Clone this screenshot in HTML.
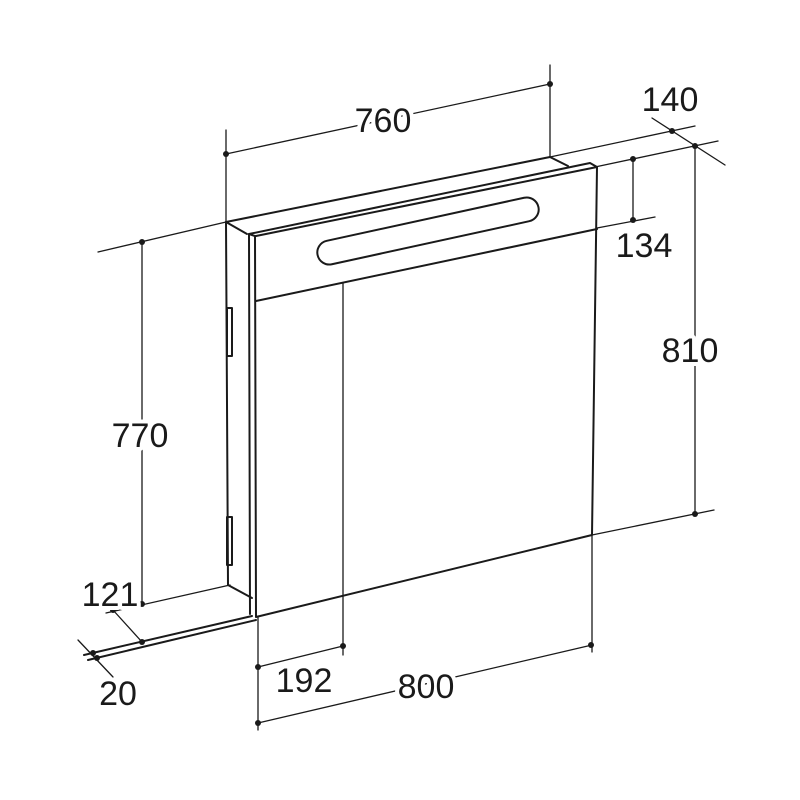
<!DOCTYPE html>
<html><head><style>body{margin:0;background:#fff}svg{display:block}</style></head><body>
<svg width="800" height="800" viewBox="0 0 800 800" xmlns="http://www.w3.org/2000/svg">
<g fill="none" stroke="#1a1a1a" stroke-linecap="round" stroke-linejoin="round">
<g stroke-width="1.3">
<line x1="226" y1="130" x2="226" y2="222"/>
<line x1="550" y1="65" x2="550" y2="157"/>
<line x1="226" y1="154" x2="550" y2="84"/>
<line x1="98" y1="252" x2="226" y2="222"/>
<line x1="142" y1="242" x2="142" y2="604"/>
<line x1="550" y1="157" x2="695" y2="126"/>
<line x1="595" y1="167" x2="718" y2="141"/>
<line x1="652" y1="118" x2="725" y2="165"/>
<line x1="633" y1="159" x2="633" y2="220"/>
<line x1="597" y1="228" x2="655" y2="217"/>
<line x1="695" y1="146" x2="695" y2="514"/>
<line x1="592" y1="535" x2="714" y2="510"/>
<line x1="106" y1="613" x2="230" y2="585"/>
<line x1="113" y1="610" x2="142" y2="642"/>
<line x1="78" y1="640" x2="113" y2="677"/>
<line x1="258" y1="616" x2="258" y2="730"/>
<line x1="343" y1="283" x2="343" y2="655"/>
<line x1="592" y1="535" x2="592" y2="652"/>
<line x1="258" y1="667" x2="343" y2="646"/>
<line x1="258" y1="723" x2="592" y2="645"/>
</g>
<g stroke-width="2">
<line x1="84" y1="655" x2="252" y2="616"/>
<line x1="88" y1="660" x2="256" y2="620"/>
<line x1="226" y1="222" x2="550" y2="157"/>
<line x1="550" y1="157" x2="568" y2="166"/>
<line x1="226" y1="222" x2="247" y2="234"/>
<line x1="226" y1="222" x2="228" y2="585"/>
<line x1="228" y1="585" x2="252" y2="598"/>
<line x1="249" y1="234" x2="250" y2="614"/>
<path d="M249 234 L590 163 L597 167 L592 535 L256 617 L255 236 L249 234"/>
<line x1="256" y1="236" x2="597" y2="167"/>
<line x1="256" y1="301" x2="597" y2="229"/>
<rect x="227" y="308" width="5" height="48"/>
<rect x="227" y="517" width="5" height="48"/>
<rect x="315" y="219" width="226" height="24" rx="12" transform="rotate(-12.3 428 231)"/>
</g>
</g>
<g fill="#1a1a1a">
<circle cx="226" cy="154" r="3"/><circle cx="550" cy="84" r="3"/>
<circle cx="142" cy="242" r="3"/><circle cx="142" cy="604" r="3"/>
<circle cx="672" cy="131" r="3"/><circle cx="695" cy="146" r="3"/>
<circle cx="633" cy="159" r="3"/><circle cx="633" cy="220" r="3"/>
<circle cx="695" cy="514" r="3"/>
<circle cx="113" cy="610" r="3"/><circle cx="142" cy="642" r="3"/>
<circle cx="93" cy="653" r="3"/><circle cx="97" cy="658" r="3"/>
<circle cx="258" cy="667" r="3"/><circle cx="343" cy="646" r="3"/>
<circle cx="258" cy="723" r="3"/><circle cx="591" cy="645" r="3"/>
</g>
<g font-family="Liberation Sans, sans-serif" font-size="34" fill="#1a1a1a" text-anchor="middle" stroke="#fff" stroke-width="8" paint-order="stroke" stroke-linejoin="round">
<text x="383" y="132">760</text>
<text x="670" y="111">140</text>
<text x="644" y="257">134</text>
<text x="690" y="362">810</text>
<text x="140" y="447">770</text>
<text x="110" y="606">121</text>
<text x="118" y="705">20</text>
<text x="304" y="692">192</text>
<text x="426" y="698">800</text>
</g>
</svg>
</body></html>
